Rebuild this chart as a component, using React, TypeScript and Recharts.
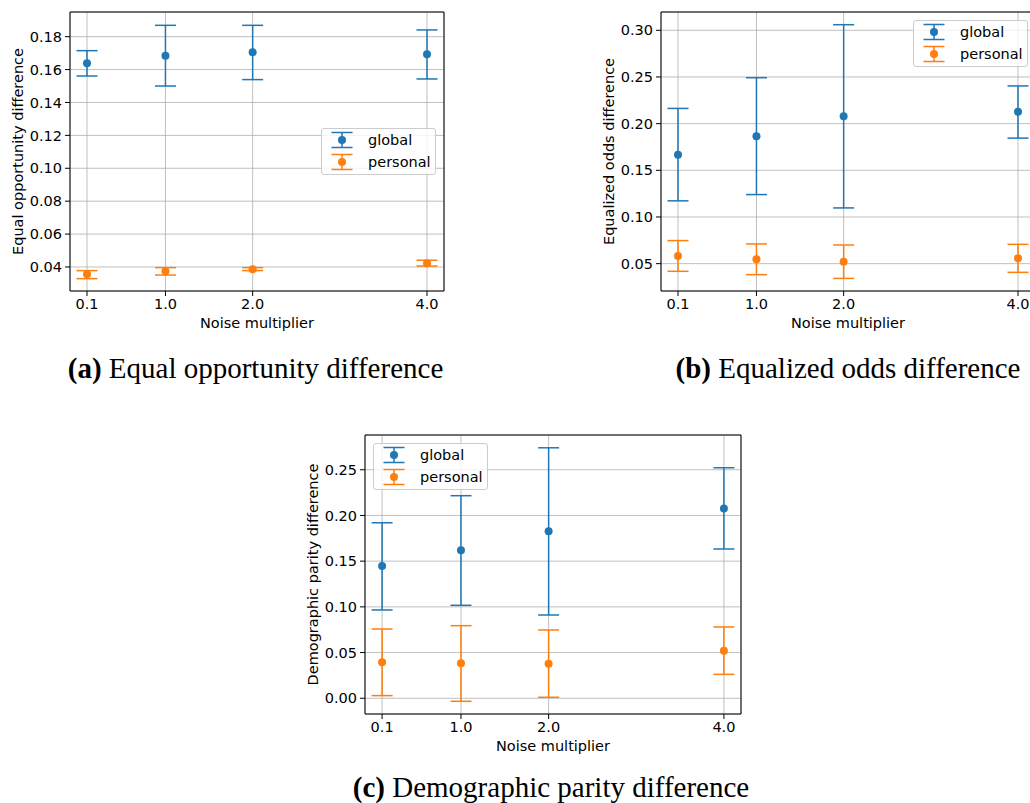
import { ScatterChart, Scatter, ErrorBar, XAxis, YAxis, CartesianGrid, ReferenceArea, Legend } from 'recharts';

// noise multipliers on the x axis
const noise = [0.1, 1.0, 2.0, 4.0];
const xTicks = [0.1, 1.0, 2.0, 4.0];

// (a) equal opportunity difference
const eoGlobal = [0.1638, 0.1684, 0.1705, 0.1693];
const eoGlobalLow = [0.1561, 0.150, 0.1539, 0.1543];
const eoGlobalHigh = [0.1715, 0.1869, 0.1869, 0.1841];
const eoPersonal = [0.0356, 0.0374, 0.0386, 0.0422];
const eoPersonalLow = [0.0329, 0.0351, 0.0378, 0.0406];
const eoPersonalHigh = [0.0378, 0.0396, 0.0396, 0.0441];
const eoTicks = [0.04, 0.06, 0.08, 0.10, 0.12, 0.14, 0.16, 0.18];

// (b) equalized odds difference
const eqGlobal = [0.1666, 0.1866, 0.208, 0.2127];
const eqGlobalLow = [0.1173, 0.124, 0.1097, 0.1845];
const eqGlobalHigh = [0.2163, 0.2492, 0.306, 0.2404];
const eqPersonal = [0.0583, 0.0547, 0.0521, 0.0557];
const eqPersonalLow = [0.0418, 0.0382, 0.0342, 0.0407];
const eqPersonalHigh = [0.0747, 0.0711, 0.07, 0.0707];
const eqTicks = [0.05, 0.10, 0.15, 0.20, 0.25, 0.30];

// (c) demographic parity difference
const dpGlobal = [0.1447, 0.1618, 0.1826, 0.2077];
const dpGlobalLow = [0.0966, 0.1017, 0.0911, 0.1633];
const dpGlobalHigh = [0.192, 0.2216, 0.274, 0.2522];
const dpPersonal = [0.0394, 0.0383, 0.0379, 0.0521];
const dpPersonalLow = [0.0029, -0.0033, 0.0011, 0.0262];
const dpPersonalHigh = [0.0758, 0.0794, 0.0747, 0.078];
const dpTicks = [0.0, 0.05, 0.10, 0.15, 0.20, 0.25];

const BLUE = '#1f77b4';
const ORANGE = '#ff7f0e';
const FONT = '"DejaVu Sans", sans-serif';
const FS = 14.5;
const X_DOMAIN: [number, number] = [-0.095, 4.195];

const toRows = (mid: number[], low: number[], high: number[]) =>
  noise.map((x, i) => ({ x, y: mid[i], err: [mid[i] - low[i], high[i] - mid[i]] }));

const LegendIcon = ({ color }: { color: string }) => (
  <svg width={30} height={20} style={{ position: 'absolute', left: 5, top: 0 }}>
    <line x1={15} y1={2.5} x2={15} y2={17.5} stroke={color} strokeWidth={1.5} />
    <line x1={4.5} y1={2.5} x2={25.5} y2={2.5} stroke={color} strokeWidth={1.5} />
    <line x1={4.5} y1={17.5} x2={25.5} y2={17.5} stroke={color} strokeWidth={1.5} />
    <circle cx={15} cy={10} r={4} fill={color} />
  </svg>
);

const LegendBox = () => (
  <div
    style={{
      position: 'relative',
      width: 115,
      height: 47,
      boxSizing: 'border-box',
      border: '1px solid #cccccc',
      borderRadius: 3,
      background: 'rgba(255,255,255,0.8)',
      fontFamily: FONT,
      fontSize: FS,
      color: '#000',
    }}
  >
    {[
      ['global', BLUE],
      ['personal', ORANGE],
    ].map(([name, c], i) => (
      <div key={name} style={{ position: 'absolute', left: 0, top: (i === 0 ? 11 : 33) - 10, height: 20, width: 113 }}>
        <LegendIcon color={c} />
        <span style={{ position: 'absolute', left: 46, top: 0, lineHeight: '20px' }}>{name}</span>
      </div>
    ))}
  </div>
);

interface PanelProps {
  left: number;
  top: number;
  width: number;
  marginRight: number;
  yLabel: string;
  yDomain: [number, number];
  yTicks: number[];
  global: any[];
  personal: any[];
  legendLeft: number;
  legendTop: number;
}

function Panel({ left, top, width, marginRight, yLabel, yDomain, yTicks, global, personal, legendLeft, legendTop }: PanelProps) {
  const tickStyle = { fill: '#000', fontSize: FS, fontFamily: FONT };
  return (
    <div style={{ position: 'absolute', left, top }}>
      <ScatterChart width={width} height={340} margin={{ top: 12, right: marginRight, bottom: 12, left: 12 }}>
        <CartesianGrid stroke="#b0b0b0" strokeWidth={0.8} />
        <XAxis
          type="number"
          dataKey="x"
          domain={X_DOMAIN}
          ticks={xTicks}
          allowDataOverflow
          interval={0}
          height={37}
          tickSize={5}
          tickMargin={3}
          axisLine={false}
          tickLine={{ stroke: '#000' }}
          tick={tickStyle}
          tickFormatter={(v: number) => v.toFixed(1)}
          label={{ value: 'Noise multiplier', position: 'insideBottom', offset: 0, fill: '#000', fontSize: FS, fontFamily: FONT }}
        />
        <YAxis
          type="number"
          dataKey="y"
          domain={yDomain}
          ticks={yTicks}
          allowDataOverflow
          interval={0}
          width={58}
          tickSize={5}
          tickMargin={3}
          axisLine={false}
          tickLine={{ stroke: '#000' }}
          tick={tickStyle}
          tickFormatter={(v: number) => v.toFixed(2)}
          label={{
            value: yLabel,
            angle: -90,
            position: 'insideLeft',
            offset: 6,
            fill: '#000',
            fontSize: FS,
            fontFamily: FONT,
            style: { textAnchor: 'middle' },
          }}
        />
        <ReferenceArea
          x1={X_DOMAIN[0]}
          x2={X_DOMAIN[1]}
          y1={yDomain[0]}
          y2={yDomain[1]}
          fill="none"
          fillOpacity={0}
          stroke="#000"
          strokeWidth={1}
          ifOverflow="visible"
        />
        <Scatter
          name="global"
          data={global}
          fill={BLUE}
          isAnimationActive={false}
          shape={(p: any) => <circle cx={p.cx} cy={p.cy} r={4} fill={BLUE} />}
        >
          <ErrorBar dataKey="err" direction="y" width={10.5} stroke={BLUE} strokeWidth={1.5} />
        </Scatter>
        <Scatter
          name="personal"
          data={personal}
          fill={ORANGE}
          isAnimationActive={false}
          shape={(p: any) => <circle cx={p.cx} cy={p.cy} r={4} fill={ORANGE} />}
        >
          <ErrorBar dataKey="err" direction="y" width={10.5} stroke={ORANGE} strokeWidth={1.5} />
        </Scatter>
        <Legend
          layout="vertical"
          align="center"
          verticalAlign="middle"
          wrapperStyle={{ left: legendLeft, top: legendTop, width: 115, height: 47 }}
          content={() => <LegendBox />}
        />
      </ScatterChart>
    </div>
  );
}

const captionStyle = (cx: number, top: number): any => ({
  position: 'absolute',
  left: cx,
  top,
  transform: 'translateX(-50%)',
  whiteSpace: 'nowrap',
  fontFamily: '"Liberation Serif", serif',
  fontSize: 29,
  lineHeight: '29px',
  color: '#000',
});

export default function App() {
  return (
    <div style={{ position: 'absolute', left: 0, top: 0, width: 1030, height: 803, background: '#fff', overflow: 'hidden' }}>
      <Panel
        left={0}
        top={0}
        width={460}
        marginRight={16}
        yLabel="Equal opportunity difference"
        yDomain={[0.0254, 0.195]}
        yTicks={eoTicks}
        global={toRows(eoGlobal, eoGlobalLow, eoGlobalHigh)}
        personal={toRows(eoPersonal, eoPersonalLow, eoPersonalHigh)}
        legendLeft={321}
        legendTop={128}
      />
      <Panel
        left={591}
        top={0}
        width={460}
        marginRight={16}
        yLabel="Equalized odds difference"
        yDomain={[0.0207, 0.3196]}
        yTicks={eqTicks}
        global={toRows(eqGlobal, eqGlobalLow, eqGlobalHigh)}
        personal={toRows(eqPersonal, eqPersonalLow, eqPersonalHigh)}
        legendLeft={322}
        legendTop={20}
      />
      <Panel
        left={295}
        top={423}
        width={460}
        marginRight={14}
        yLabel="Demographic parity difference"
        yDomain={[-0.0172, 0.288]}
        yTicks={dpTicks}
        global={toRows(dpGlobal, dpGlobalLow, dpGlobalHigh)}
        personal={toRows(dpPersonal, dpPersonalLow, dpPersonalHigh)}
        legendLeft={78}
        legendTop={20}
      />
      <div style={captionStyle(255.5, 354)}>
        <b>(a)</b> Equal opportunity difference
      </div>
      <div style={captionStyle(848, 354)}>
        <b>(b)</b> Equalized odds difference
      </div>
      <div style={captionStyle(551, 773)}>
        <b>(c)</b> Demographic parity difference
      </div>
    </div>
  );
}
